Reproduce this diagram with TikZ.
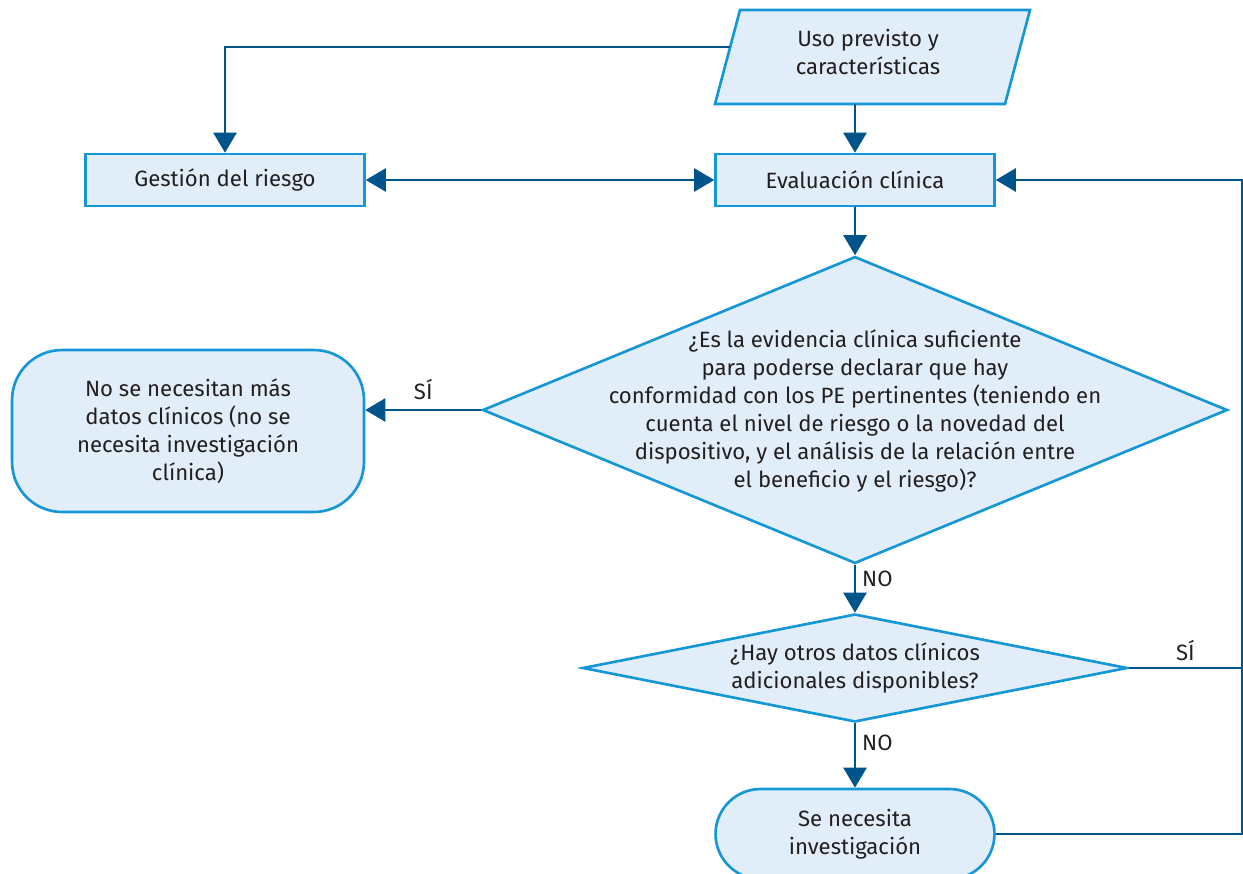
\documentclass[tikz,border=0pt]{standalone}
\usepackage{fontspec}
\setmainfont{Fira Sans}
\usetikzlibrary{shapes.geometric,arrows.meta}
\definecolor{linea}{RGB}{0,84,140}
\definecolor{borde}{RGB}{20,150,215}
\definecolor{relleno}{RGB}{225,238,249}
\definecolor{texto}{RGB}{35,31,32}
\begin{document}
\begin{tikzpicture}[x=0.02cm,y=-0.02cm,
  letra/.style={text=texto,align=center,font=\fontsize{12.6}{16}\selectfont},
  caja/.style={draw=borde,fill=relleno,line width=1.5pt,letra,inner sep=2pt},
  proceso/.style={caja,rectangle,minimum width=5.58cm,minimum height=1.04cm},
  decision/.style={caja,diamond,inner sep=0pt},
  flecha/.style={draw=linea,line width=1.5pt,-{Triangle[width=0.46cm,length=0.4cm]}},
  conector/.style={draw=linea,line width=1.5pt}]
\useasboundingbox (0,0) rectangle (1243,874);
%\draw [lightgray](0,0) grid[step=100] (1243,874);

% cajas
\draw [caja] (740,10) -- (1030,10) -- (1005,104) -- (715,104) -- cycle;
\node [letra] (uso) at (868,52) {Uso previsto y\\características};
\coordinate (usoizq) at (730,47);
\coordinate (usobajo) at (855,104);
\node [proceso] (gestion) at (225,180) {Gestión del riesgo};
\node [proceso] (eval) at (855,180) {Evaluación clínica};
\node [decision,minimum width=14.9cm,minimum height=6.14cm] (suf) at (855,410) {};
\node [letra] (suftxt) at (855,411) {¿Es la evidencia clínica suficiente\\
  para poderse declarar que hay\\
  conformidad con los PE pertinentes (teniendo en\\
  cuenta el nivel de riesgo o la novedad del\\
  dispositivo, y el análisis de la relación entre\\
  el beneficio y el riesgo)?};
\node [caja,rectangle,rounded corners=1cm,minimum width=7.04cm,minimum height=3.24cm]
  (nomas) at (188,431) {No se necesitan más\\datos clínicos (no se\\necesita investigación\\clínica)};
\node [decision,minimum width=10.9cm,minimum height=2.16cm] (hay) at (855,668) {};
\node [letra] (haytxt) at (855,668) {¿Hay otros datos clínicos\\adicionales disponibles?};
\node [caja,rectangle,rounded corners=0.9cm,minimum width=5.58cm,minimum height=1.8cm]
  (inv) at (855,834) {Se necesita\\investigación};
\coordinate (lado) at (1242,0);

% conectores
\draw [flecha] (usoizq) -| (gestion.north);
\draw [flecha] (usobajo) -- (eval.north);
\draw [flecha,{Triangle[width=0.46cm,length=0.4cm]}-{Triangle[width=0.46cm,length=0.4cm]}]
  (gestion.east) -- (eval.west);
\draw [flecha] (eval.south) -- (suf.north);
\draw [flecha] (suf.west) -- node[letra,above,yshift=2pt] {SÍ} (suf.west -| nomas.east);
\draw [flecha] (suf.south) -- node[letra,right,pos=0.3] {NO} (hay.north);
\draw [flecha] (hay.south) -- node[letra,right,pos=0.3] {NO} (inv.north);
\draw [conector] (hay.east) -- node[letra,above,pos=0.5] {SÍ} (hay.east -| lado);
\draw [flecha] (inv.east) -- (inv.east -| lado) -- (eval.east -| lado) -- (eval.east);
\end{tikzpicture}
\end{document}
